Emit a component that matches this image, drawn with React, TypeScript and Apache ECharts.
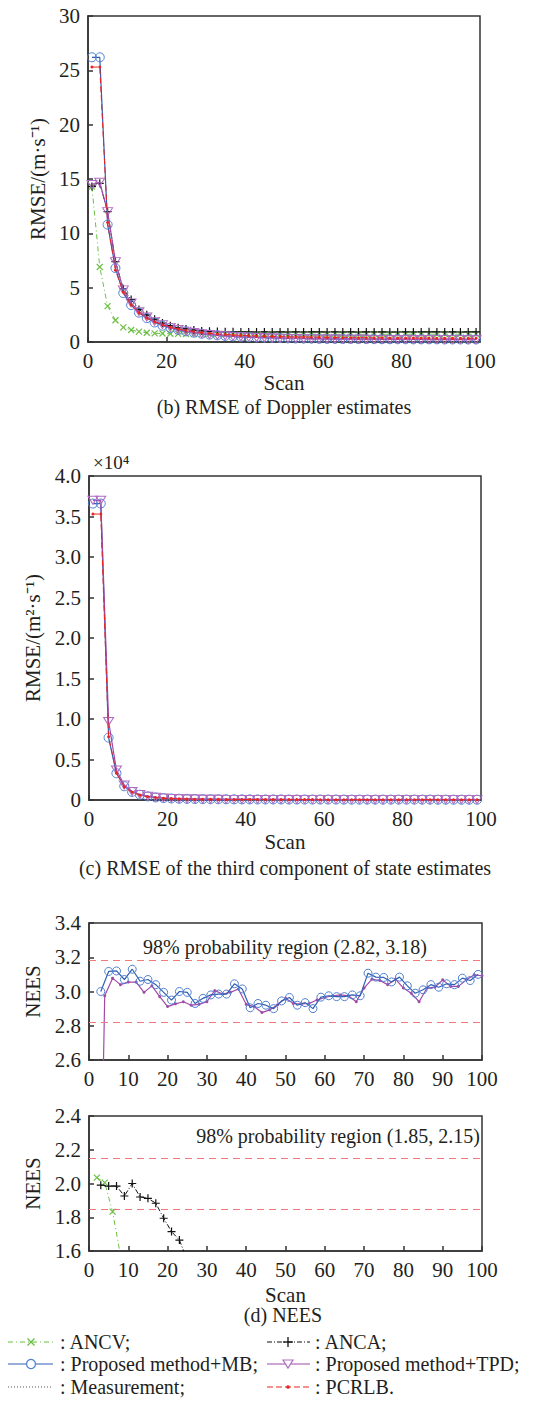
import React, { useEffect, useRef } from "react";
import * as echarts from "echarts";

// ---------- data ----------
const scanOdd = [1, 3, 5, 7, 9, 11, 13, 15, 17, 19, 21, 23, 25, 27, 29, 31, 33, 35, 37, 39, 41, 43, 45, 47, 49, 51, 53, 55, 57, 59, 61, 63, 65, 67, 69, 71, 73, 75, 77, 79, 81, 83, 85, 87, 89, 91, 93, 95, 97, 99];
const scanEven = [2, 4, 6, 8, 10, 12, 14, 16, 18, 20, 22, 24, 26, 28, 30, 32, 34, 36, 38, 40, 42, 44, 46, 48, 50, 52, 54, 56, 58, 60, 62, 64, 66, 68, 70, 72, 74, 76, 78, 80, 82, 84, 86, 88, 90, 92, 94, 96, 98, 100];

// (b) RMSE of Doppler estimates, m/s
const dopAncv = [14.3, 6.9, 3.3, 2.0, 1.35, 1.1, 0.95, 0.85, 0.8, 0.78, 0.76, 0.75, 0.74, 0.73, 0.73, 0.72, 0.72, 0.72, 0.71, 0.72, 0.71, 0.72, 0.71, 0.71, 0.72, 0.71, 0.72, 0.71, 0.71, 0.72, 0.71, 0.72, 0.71, 0.72, 0.71, 0.71, 0.72, 0.71, 0.72, 0.71, 0.72, 0.71, 0.71, 0.72, 0.71, 0.72, 0.71, 0.72, 0.71, 0.72];
const dopAnca = [14.3, 14.6, 12.0, 7.4, 4.9, 3.9, 3.0, 2.5, 2.1, 1.75, 1.5, 1.3, 1.2, 1.1, 1.02, 0.98, 0.96, 0.95, 0.94, 0.93, 0.93, 0.92, 0.93, 0.92, 0.93, 0.92, 0.93, 0.92, 0.93, 0.93, 0.92, 0.93, 0.92, 0.93, 0.92, 0.93, 0.92, 0.93, 0.92, 0.92, 0.93, 0.92, 0.93, 0.94, 0.93, 0.92, 0.93, 0.92, 0.93, 0.93];
const dopMb = [26.2, 26.2, 10.8, 6.8, 4.5, 3.4, 2.7, 2.2, 1.8, 1.5, 1.3, 1.12, 0.98, 0.86, 0.76, 0.68, 0.62, 0.56, 0.52, 0.48, 0.45, 0.42, 0.4, 0.38, 0.36, 0.34, 0.33, 0.32, 0.31, 0.3, 0.29, 0.29, 0.28, 0.28, 0.27, 0.27, 0.27, 0.26, 0.26, 0.26, 0.26, 0.25, 0.25, 0.25, 0.25, 0.24, 0.24, 0.24, 0.24, 0.24];
const dopTpd = [14.5, 14.7, 12.0, 7.4, 4.8, 3.6, 2.8, 2.3, 1.9, 1.6, 1.35, 1.15, 1.0, 0.87, 0.77, 0.69, 0.62, 0.57, 0.52, 0.48, 0.45, 0.42, 0.39, 0.37, 0.35, 0.33, 0.32, 0.3, 0.29, 0.28, 0.27, 0.27, 0.26, 0.26, 0.25, 0.25, 0.24, 0.24, 0.24, 0.23, 0.23, 0.23, 0.23, 0.22, 0.22, 0.22, 0.22, 0.22, 0.21, 0.21];
const dopPcrlb = [25.3, 25.3, 11.0, 6.6, 4.6, 3.4, 2.7, 2.2, 1.85, 1.58, 1.36, 1.19, 1.06, 0.96, 0.87, 0.8, 0.74, 0.69, 0.65, 0.61, 0.58, 0.55, 0.53, 0.51, 0.49, 0.47, 0.46, 0.45, 0.44, 0.43, 0.42, 0.41, 0.41, 0.4, 0.39, 0.39, 0.38, 0.38, 0.37, 0.37, 0.37, 0.36, 0.36, 0.36, 0.35, 0.35, 0.35, 0.35, 0.34, 0.34];

// (c) RMSE of the third component of state estimates, x10^4 m^2/s
const stMb = [3.66, 3.66, 0.77, 0.33, 0.17, 0.1, 0.065, 0.045, 0.032, 0.024, 0.019, 0.016, 0.014, 0.012, 0.011, 0.01, 0.009, 0.009, 0.008, 0.008, 0.008, 0.007, 0.007, 0.007, 0.007, 0.006, 0.006, 0.006, 0.006, 0.006, 0.006, 0.006, 0.005, 0.005, 0.005, 0.005, 0.005, 0.005, 0.005, 0.005, 0.005, 0.005, 0.005, 0.005, 0.004, 0.004, 0.004, 0.004, 0.004, 0.004];
const stTpd = [3.7, 3.7, 0.97, 0.37, 0.185, 0.105, 0.068, 0.047, 0.034, 0.025, 0.02, 0.016, 0.013, 0.012, 0.01, 0.009, 0.009, 0.008, 0.008, 0.007, 0.007, 0.007, 0.006, 0.006, 0.006, 0.006, 0.006, 0.005, 0.005, 0.005, 0.005, 0.005, 0.005, 0.005, 0.005, 0.004, 0.004, 0.004, 0.004, 0.004, 0.004, 0.004, 0.004, 0.004, 0.004, 0.004, 0.004, 0.004, 0.004, 0.004];
const stPcrlb = [3.53, 3.53, 0.78, 0.33, 0.16, 0.095, 0.06, 0.04, 0.03, 0.022, 0.017, 0.014, 0.012, 0.01, 0.009, 0.008, 0.008, 0.007, 0.007, 0.006, 0.006, 0.006, 0.006, 0.005, 0.005, 0.005, 0.005, 0.005, 0.005, 0.004, 0.004, 0.004, 0.004, 0.004, 0.004, 0.004, 0.004, 0.004, 0.004, 0.004, 0.004, 0.004, 0.004, 0.004, 0.003, 0.003, 0.003, 0.003, 0.003, 0.003];

// (d) NEES, upper panel
const neesMbScan = [3, 5, 7, 9, 11, 13, 15, 17, 19, 21, 23, 25, 27, 29, 31, 33, 35, 37, 39, 41, 43, 45, 47, 49, 51, 53, 55, 57, 59, 61, 63, 65, 67, 69, 71, 73, 75, 77, 79, 81, 83, 85, 87, 89, 91, 93, 95, 97, 99];
const neesMb = [3.0, 3.117, 3.12, 3.07, 3.13, 3.06, 3.07, 3.04, 2.995, 2.95, 3.0, 2.995, 2.93, 2.96, 2.98, 2.985, 2.985, 3.045, 3.015, 2.905, 2.93, 2.92, 2.9, 2.945, 2.965, 2.92, 2.935, 2.9, 2.967, 2.975, 2.97, 2.97, 2.98, 2.975, 3.107, 3.084, 3.082, 3.056, 3.084, 3.033, 2.99, 3.01, 3.04, 3.025, 3.045, 3.04, 3.078, 3.064, 3.1];
const neesTpd = [0.5, 2.975, 3.078, 3.04, 3.055, 3.055, 2.995, 3.033, 2.97, 2.912, 2.928, 2.94, 2.92, 2.925, 2.94, 3.005, 2.985, 2.995, 3.015, 2.925, 2.912, 2.877, 2.893, 2.922, 2.96, 2.93, 2.928, 2.93, 2.95, 2.965, 2.975, 2.98, 2.975, 2.94, 3.02, 3.072, 3.064, 3.04, 3.072, 3.02, 2.99, 2.94, 3.02, 3.025, 3.068, 3.03, 3.03, 3.068, 3.097, 3.092];
const boundsTop = [2.82, 3.18];

// (d) NEES, lower panel
const neesAncvScan = [2, 4, 6, 8];
const neesAncv = [2.035, 2.005, 1.833, 1.575];
const neesAncaScan = [3, 5, 7, 9, 11, 13, 15, 17, 19, 21, 23, 25];
const neesAnca = [1.99, 1.985, 1.985, 1.926, 2.0, 1.92, 1.912, 1.883, 1.794, 1.715, 1.665, 1.547];
const boundsBottom = [1.85, 2.15];

// ---------- styles ----------
const FONT = '"Liberation Serif", "Times New Roman", serif';
const TXT = "#231f20";
const AX = "#333333";
const GREEN = "#6cbf45";
const BLACK = "#111111";
const BLUE_L = "#2f5fb3";
const BLUE_M = "#4f7fd0";
const PURPLE_L = "#a04aa8";
const PURPLE_M = "#b06cc0";
const RED = "#e82424";
const BOUND = "#f07a7a";

const PLUS = "path://M0,5L10,5M5,0L5,10";
const CROSS = "path://M0,0L10,10M10,0L0,10";

const pair = (xs: number[], ys: number[]) => xs.map((x, i) => [x, ys[i]]);

const xAx = (gi: number, interval: number, name: string, nameGap: number) => ({
  type: "value",
  gridIndex: gi,
  min: 0,
  max: 100,
  interval,
  name,
  nameLocation: "middle",
  nameGap,
  nameTextStyle: { fontSize: 21, color: TXT, fontFamily: FONT },
  axisLine: { show: true, lineStyle: { color: AX, width: 1.5 } },
  axisTick: { show: true, inside: true, length: 5, lineStyle: { color: AX, width: 1.5 } },
  axisLabel: { fontSize: 21, color: TXT, margin: 8, fontFamily: FONT },
  splitLine: { show: false },
});

const yAx = (gi: number, min: number, max: number, interval: number, name: string, nameGap: number, fmt: (v: number) => string) => ({
  type: "value",
  gridIndex: gi,
  min,
  max,
  interval,
  name,
  nameLocation: "middle",
  nameRotate: 90,
  nameGap,
  nameTextStyle: { fontSize: 21, color: TXT, fontFamily: FONT },
  axisLine: { show: true, lineStyle: { color: AX, width: 1.5 } },
  axisTick: { show: true, inside: true, length: 5, lineStyle: { color: AX, width: 1.5 } },
  axisLabel: { fontSize: 21, color: TXT, margin: 8, fontFamily: FONT, formatter: fmt },
  splitLine: { show: false },
});

const ancvSeries = (gi: number, data: number[][]) => ({
  type: "line",
  xAxisIndex: gi,
  yAxisIndex: gi,
  data,
  symbol: CROSS,
  symbolSize: 6,
  itemStyle: { color: "rgba(0,0,0,0)", borderColor: GREEN, borderWidth: 1.2 },
  lineStyle: { color: GREEN, width: 1, type: [5, 3, 1, 3] },
  z: 2,
});
const ancaSeries = (gi: number, data: number[][]) => ({
  type: "line",
  xAxisIndex: gi,
  yAxisIndex: gi,
  data,
  symbol: PLUS,
  symbolSize: 8,
  itemStyle: { color: "rgba(0,0,0,0)", borderColor: BLACK, borderWidth: 1.2 },
  lineStyle: { color: BLACK, width: 1, type: [5, 2, 1, 2] },
  z: 2,
});
const mbSeries = (gi: number, data: number[][], size = 9) => ({
  type: "line",
  xAxisIndex: gi,
  yAxisIndex: gi,
  data,
  symbol: "circle",
  symbolSize: size,
  itemStyle: { color: "rgba(255,255,255,0)", borderColor: BLUE_M, borderWidth: 1 },
  lineStyle: { color: BLUE_L, width: 1.2 },
  z: 3,
});
const tpdSeries = (gi: number, data: number[][]) => ({
  type: "line",
  xAxisIndex: gi,
  yAxisIndex: gi,
  data,
  symbol: "triangle",
  symbolRotate: 180,
  symbolSize: [10, 8],
  itemStyle: { color: "rgba(255,255,255,0)", borderColor: PURPLE_M, borderWidth: 1 },
  lineStyle: { color: PURPLE_L, width: 1.2 },
  z: 4,
});
const pcrlbSeries = (gi: number, data: number[][]) => ({
  type: "line",
  xAxisIndex: gi,
  yAxisIndex: gi,
  data,
  symbol: "circle",
  symbolSize: 3,
  itemStyle: { color: RED },
  lineStyle: { color: RED, width: 1, type: [6, 3] },
  z: 5,
});
const boundSeries = (gi: number, vals: number[]) => ({
  type: "line",
  xAxisIndex: gi,
  yAxisIndex: gi,
  data: [],
  markLine: {
    silent: true,
    symbol: "none",
    label: { show: false },
    lineStyle: { color: BOUND, width: 1, type: [7, 5] },
    data: vals.map((v) => ({ yAxis: v })),
  },
});

const txt = (x: number, y: number, text: string, size: number, align = "left") => ({
  type: "text",
  x,
  y,
  style: { text, fontSize: size, fontFamily: FONT, fill: TXT, align, verticalAlign: "middle" },
});

const legendGraphics = () => {
  const rows = [1342, 1364, 1387];
  const cols = [
    { x1: 8, x2: 53, cx: 31, tx: 60 },
    { x1: 267, x2: 310, cx: 288, tx: 315 },
  ];
  const items = [
    { label: ": ANCV;", color: GREEN, dash: [5, 3, 1, 3], mark: "x", r: 0, c: 0 },
    { label: ": ANCA;", color: BLACK, dash: [5, 2, 1, 2], mark: "+", r: 0, c: 1 },
    { label: ": Proposed method+MB;", color: BLUE_L, dash: null, mark: "o", r: 1, c: 0 },
    { label: ": Proposed method+TPD;", color: PURPLE_L, dash: null, mark: "v", r: 1, c: 1 },
    { label: ": Measurement;", color: "#555555", dash: [1, 2], mark: "", r: 2, c: 0 },
    { label: ": PCRLB.", color: RED, dash: [6, 3], mark: ".", r: 2, c: 1 },
  ];
  const out: any[] = [];
  items.forEach((it) => {
    const y = rows[it.r];
    const col = cols[it.c];
    out.push({
      type: "line",
      shape: { x1: col.x1, y1: y, x2: col.x2, y2: y },
      style: { stroke: it.color, lineWidth: 1.2, lineDash: it.dash || undefined },
    });
    const cx = col.cx;
    if (it.mark === "x") {
      out.push({ type: "line", shape: { x1: cx - 3.5, y1: y - 3.5, x2: cx + 3.5, y2: y + 3.5 }, style: { stroke: it.color, lineWidth: 1.3 } });
      out.push({ type: "line", shape: { x1: cx - 3.5, y1: y + 3.5, x2: cx + 3.5, y2: y - 3.5 }, style: { stroke: it.color, lineWidth: 1.3 } });
    } else if (it.mark === "+") {
      out.push({ type: "line", shape: { x1: cx - 5, y1: y, x2: cx + 5, y2: y }, style: { stroke: it.color, lineWidth: 1.3 } });
      out.push({ type: "line", shape: { x1: cx, y1: y - 5, x2: cx, y2: y + 5 }, style: { stroke: it.color, lineWidth: 1.3 } });
    } else if (it.mark === "o") {
      out.push({ type: "circle", shape: { cx, cy: y, r: 4.5 }, style: { fill: "#fff", stroke: BLUE_M, lineWidth: 1.2 } });
    } else if (it.mark === "v") {
      out.push({ type: "polygon", shape: { points: [[cx - 5, y - 4], [cx + 5, y - 4], [cx, y + 4]] }, style: { fill: "#fff", stroke: PURPLE_M, lineWidth: 1.2 } });
    } else if (it.mark === ".") {
      out.push({ type: "circle", shape: { cx, cy: y, r: 1.8 }, style: { fill: RED } });
    }
    out.push(txt(col.tx, y, it.label, 20));
  });
  return out;
};

export default function App() {
  const ref = useRef<HTMLDivElement>(null);
  useEffect(() => {
    if (!ref.current) return;
    const chart = echarts.init(ref.current, null, { renderer: "svg" });
    const gridBase = { show: true, borderColor: AX, borderWidth: 1.5, backgroundColor: "transparent" };
    const option: any = {
      animation: false,
      backgroundColor: "#ffffff",
      textStyle: { fontFamily: FONT },
      grid: [
        { ...gridBase, left: 88, top: 16, width: 392, height: 326 },
        { ...gridBase, left: 89, top: 476, width: 392, height: 324 },
        { ...gridBase, left: 89, top: 923, width: 393, height: 137 },
        { ...gridBase, left: 89, top: 1116, width: 393, height: 135 },
      ],
      xAxis: [xAx(0, 20, "Scan", 30), xAx(1, 20, "Scan", 31), xAx(2, 10, "", 30), xAx(3, 10, "Scan", 33)],
      yAxis: [
        yAx(0, 0, 30, 5, "RMSE/(m·s⁻¹)", 34, (v) => String(v)),
        yAx(1, 0, 4, 0.5, "RMSE/(m²·s⁻¹)", 40, (v) => (v === 0 ? "0" : v.toFixed(1))),
        yAx(2, 2.6, 3.4, 0.2, "NEES", 37, (v) => v.toFixed(1)),
        yAx(3, 1.6, 2.4, 0.2, "NEES", 37, (v) => v.toFixed(1)),
      ],
      series: [
        ancvSeries(0, pair(scanOdd, dopAncv)),
        ancaSeries(0, pair(scanOdd, dopAnca)),
        mbSeries(0, pair(scanOdd, dopMb)),
        tpdSeries(0, pair(scanOdd, dopTpd)),
        pcrlbSeries(0, pair(scanOdd, dopPcrlb)),

        mbSeries(1, pair(scanOdd, stMb)),
        tpdSeries(1, pair(scanOdd, stTpd)),
        pcrlbSeries(1, pair(scanOdd, stPcrlb)),

        boundSeries(2, boundsTop),
        mbSeries(2, pair(neesMbScan, neesMb), 8),
        {
          type: "line",
          xAxisIndex: 2,
          yAxisIndex: 2,
          data: pair(scanEven, neesTpd),
          symbol: "circle",
          symbolSize: 3,
          itemStyle: { color: PURPLE_L },
          lineStyle: { color: PURPLE_L, width: 1.2 },
          z: 2,
        },

        boundSeries(3, boundsBottom),
        ancvSeries(3, pair(neesAncvScan, neesAncv)),
        ancaSeries(3, pair(neesAncaScan, neesAnca)),
      ],
      graphic: [
        txt(284, 407, "(b) RMSE of Doppler estimates", 20, "center"),
        txt(285, 868, "(c) RMSE of the third component of state estimates", 20, "center"),
        txt(283, 1315, "(d) NEES", 20, "center"),
        txt(93, 462, "×10⁴", 19, "left"),
        txt(285, 947, "98% probability region (2.82, 3.18)", 20, "center"),
        txt(480, 1136, "98% probability region (1.85, 2.15)", 20, "right"),
        ...legendGraphics(),
      ],
    };
    chart.setOption(option);
    return () => chart.dispose();
  }, []);
  return <div ref={ref} style={{ position: "absolute", left: 0, top: 0, width: 554, height: 1402 }} />;
}
